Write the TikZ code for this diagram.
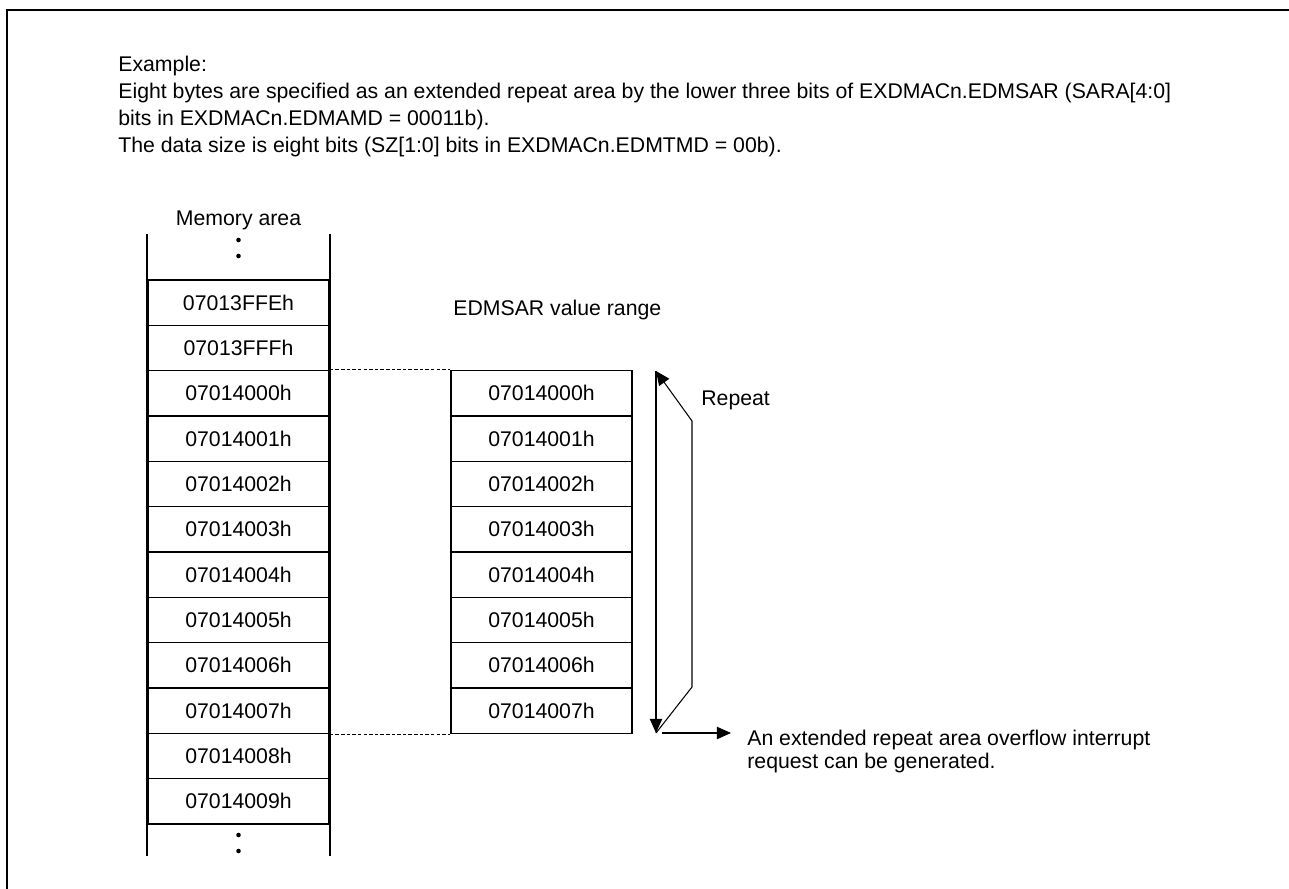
\documentclass[tikz,border=0pt]{standalone}
\usepackage{fontspec}
\setmainfont{Liberation Sans}
\usetikzlibrary{arrows.meta,calc}

\begin{document}
\begin{tikzpicture}[x=0.02cm, y=-0.02cm,
    cell/.style={draw, line width=0.9pt, minimum width=3.62cm, minimum height=0.9067cm, inner sep=0pt, font=\fontsize{12.1}{14}\selectfont},
    txt/.style={font=\fontsize{12.1}{14}\selectfont, inner sep=0pt},
    side/.style={line width=1.3pt},
    arrow/.style={-{Triangle[length=8pt,width=7pt]}, line width=0.6pt},
    guide/.style={dash pattern=on 2pt off 1.2pt, line width=0.6pt}
]
\useasboundingbox (0,0) rectangle (1289,889);

% Frame (top and left edges only)
\draw[line width=1.7pt] (7,889) -- (7,10) -- (1289,10);

\node[txt, anchor=base west, align=left, font=\fontsize{12.1}{15.2}\selectfont] (intro) at (118,152)
  {Example:\\Eight bytes are specified as an extended repeat area by the lower three bits of EXDMACn.EDMSAR (SARA[4:0]\\bits in EXDMACn.EDMAMD = 00011b).\\The data size is eight bits (SZ[1:0] bits in EXDMACn.EDMTMD = 00b).};

% Memory area
\node[txt, anchor=base] (memlbl) at (238.5,225) {Memory area};
\node[cell] (mFFE) at (238.5,302.67) {07013FFEh};
\node[cell] (mFFF) at (238.5,348) {07013FFFh};
\node[cell] (m0) at (238.5,393.33) {07014000h};
\node[cell] (m1) at (238.5,438.67) {07014001h};
\node[cell] (m2) at (238.5,484) {07014002h};
\node[cell] (m3) at (238.5,529.33) {07014003h};
\node[cell] (m4) at (238.5,574.67) {07014004h};
\node[cell] (m5) at (238.5,620) {07014005h};
\node[cell] (m6) at (238.5,665.33) {07014006h};
\node[cell] (m7) at (238.5,710.67) {07014007h};
\node[cell] (m8) at (238.5,756) {07014008h};
\node[cell] (m9) at (238.5,801.33) {07014009h};

\draw[side] ($(mFFE.north west)+(0,-45)$) -- ($(m9.south west)+(0,31)$);
\draw[side] ($(mFFE.north east)+(0,-45)$) -- ($(m9.south east)+(0,31)$);
\fill (238.5,240) circle (1.3pt) (238.5,256) circle (1.3pt);
\fill (238.5,835) circle (1.3pt) (238.5,851) circle (1.3pt);

% EDMSAR value range
\node[txt, anchor=base west] (rnglbl) at (453,315) {EDMSAR value range};
\node[cell] (r0) at (541.5,393.33) {07014000h};
\node[cell] (r1) at (541.5,438.67) {07014001h};
\node[cell] (r2) at (541.5,484) {07014002h};
\node[cell] (r3) at (541.5,529.33) {07014003h};
\node[cell] (r4) at (541.5,574.67) {07014004h};
\node[cell] (r5) at (541.5,620) {07014005h};
\node[cell] (r6) at (541.5,665.33) {07014006h};
\node[cell] (r7) at (541.5,710.67) {07014007h};

\draw[guide] (m0.north east) -- (r0.north west);
\draw[guide] (m7.south east) -- (r7.south west);

% Repeat loop
\coordinate (rtop) at (656,371);
\coordinate (rbot) at (656,733);
\draw[arrow] (rtop) -- (rbot);
\draw[arrow] (rbot) -- (692,687) -- (692,421) -- (rtop);
\node[txt, anchor=base west] (rep) at (701,405) {Repeat};

% Overflow
\node[txt, anchor=base west, align=left, font=\fontsize{12.1}{12.6}\selectfont] (note) at (747,768)
  {An extended repeat area overflow interrupt\\request can be generated.};
\coordinate (ovf) at (731,733);
\draw[arrow] ($(rbot)+(6,0)$) -- (ovf);
\end{tikzpicture}
\end{document}
